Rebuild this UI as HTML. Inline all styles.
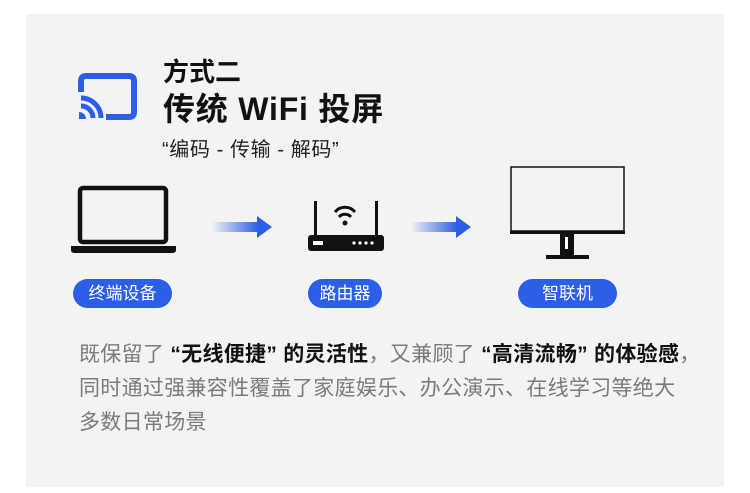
<!DOCTYPE html>
<html><head><meta charset="utf-8"><style>
html,body{margin:0;padding:0;background:#fff;}
body{width:750px;height:493px;position:relative;overflow:hidden;font-family:"Liberation Sans","Noto Sans CJK SC",sans-serif;}
.panel{position:absolute;left:26px;top:14px;width:698px;height:473px;background:#f3f3f3;}
.t{position:absolute;white-space:nowrap;color:#111;}
.pill{position:absolute;height:29px;border-radius:15px;background:#2c5fe6;color:#fff;font-size:17px;line-height:29px;text-align:center;}
.body{position:absolute;left:79px;font-size:21px;color:#7a7a7a;white-space:nowrap;letter-spacing:0.3px;}
.body b{color:#111;}
</style></head><body>
<div class="panel"></div>
<svg style="position:absolute;left:0;top:0" width="750" height="493">
<defs><linearGradient id="g" x1="0" x2="1"><stop offset="0" stop-color="#2c5fe6" stop-opacity="0"/><stop offset="1" stop-color="#2c5fe6"/></linearGradient></defs>
<path d="M81 92 V81 Q81 76 86 76 H129 Q134 76 134 81 V112 Q134 117 129 117 H106" fill="none" stroke="#2c5fe6" stroke-width="6"/>
<path d="M81 98 A20 20 0 0 1 101 118" fill="none" stroke="#2c5fe6" stroke-width="5"/>
<path d="M81 106 A12 12 0 0 1 93 118" fill="none" stroke="#2c5fe6" stroke-width="5"/>
<path d="M79 112 A7 7 0 0 1 86 119 H79Z" fill="#2c5fe6"/>
<rect x="80" y="188" width="86" height="54" rx="3" fill="none" stroke="#111" stroke-width="4.5"/>
<path d="M71 246 H176 V250 Q176 253 172 253 H75 Q71 253 71 250Z" fill="#111"/>
<rect x="212" y="222" width="46" height="10" fill="url(#g)"/>
<path d="M257 216 L272 227 L257 238Z" fill="#2c5fe6"/>
<rect x="411" y="222" width="46" height="10" fill="url(#g)"/>
<path d="M456 216 L471 227 L456 238Z" fill="#2c5fe6"/>
<rect x="314" y="201" width="3" height="36" fill="#111"/>
<rect x="375" y="201" width="3" height="36" fill="#111"/>
<rect x="308" y="235" width="76" height="16" rx="3" fill="#111"/>
<rect x="313" y="241" width="10" height="4" fill="#fff"/>
<circle cx="354" cy="243" r="1.6" fill="#fff"/><circle cx="360" cy="243" r="1.6" fill="#fff"/><circle cx="366" cy="243" r="1.6" fill="#fff"/><circle cx="372" cy="243" r="1.6" fill="#fff"/>
<path d="M335 212 A13 13 0 0 1 355 212" fill="none" stroke="#111" stroke-width="3"/>
<path d="M339 217 A8 8 0 0 1 351 217" fill="none" stroke="#111" stroke-width="3"/>
<circle cx="345" cy="223" r="2.5" fill="#111"/>
<rect x="511" y="167" width="113" height="64" fill="none" stroke="#111" stroke-width="1.5"/>
<rect x="510" y="231" width="115" height="3" fill="#111"/>
<rect x="560" y="233" width="14" height="22" fill="#111"/>
<rect x="565" y="237" width="3" height="12" fill="#fff"/>
<rect x="546" y="255" width="43" height="4" fill="#111"/>
</svg>
<div class="t" style="left:163px;top:52px;font-size:26px;font-weight:bold;">方式二</div>
<div class="t" style="left:163px;top:84px;font-size:32px;font-weight:bold;letter-spacing:0.8px;">传统 WiFi 投屏</div>
<div class="t" style="left:162px;top:133px;font-size:20px;color:#222;letter-spacing:0.6px;">“编码 - 传输 - 解码”</div>
<div class="pill" style="left:73px;top:279px;width:99px;">终端设备</div>
<div class="pill" style="left:308px;top:279px;width:74px;">路由器</div>
<div class="pill" style="left:518px;top:279px;width:99px;">智联机</div>
<div class="body" style="top:338px;">既保留了 <b>“无线便捷” 的灵活性</b>，又兼顾了 <b>“高清流畅” 的体验感</b>，</div>
<div class="body" style="top:372px;">同时通过强兼容性覆盖了家庭娱乐、办公演示、在线学习等绝大</div>
<div class="body" style="top:406px;">多数日常场景</div>
</body></html>
